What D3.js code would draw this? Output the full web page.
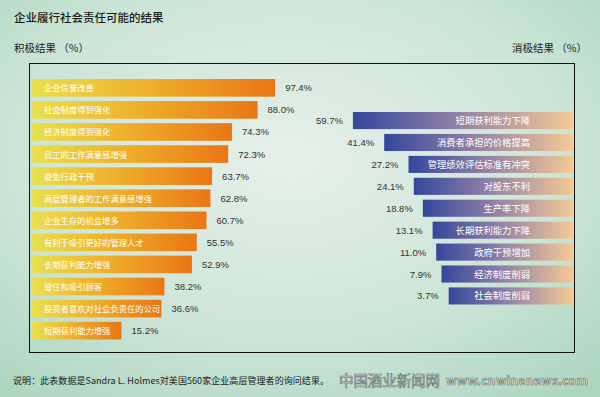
<!DOCTYPE html>
<html>
<head>
<meta charset="utf-8">
<script src="https://cdn.jsdelivr.net/npm/d3@7"></script>
<style>
  body { margin: 0; }
  text { font-family: "Noto Sans CJK SC", "Noto Sans", sans-serif; }
  .val { font-family: "Liberation Sans", Arial, sans-serif; }
</style>
</head>
<body>
<script>
// data
const posLabels = ['企业信誉改善', '社会制度得到强化', '经济制度得到强化', '员工的工作满意感增强', '避免行政干预',
  '高层管理者的工作满意感增强', '企业生存的机会增多', '有利于吸引更好的管理人才', '长期获利能力增强',
  '留住和吸引顾客', '投资者喜欢对社会负责任的公司', '短期获利能力增强']
const posValues = [97.4, 88.0, 74.3, 72.3, 63.7, 62.8, 60.7, 55.5, 52.9, 38.2, 36.6, 15.2]

const negLabels = ['短期获利能力下降', '消费者承担的价格提高', '管理绩效评估标准有冲突', '对股东不利',
  '生产率下降', '长期获利能力下降', '政府干预增加', '经济制度削弱', '社会制度削弱']
const negValues = [59.7, 41.4, 27.2, 24.1, 18.8, 13.1, 11.0, 7.9, 3.7]

const width = 600
const height = 397

const svg = d3.select('body').append('svg')
  .attr('width', width)
  .attr('height', height)

const defs = svg.append('defs')

// background
const bg = defs.append('radialGradient').attr('id', 'bg')
  .attr('cx', '48%').attr('cy', '40%').attr('r', '75%')
bg.append('stop').attr('offset', '0%').attr('stop-color', '#e6f0ea')
bg.append('stop').attr('offset', '60%').attr('stop-color', '#cce5d7')
bg.append('stop').attr('offset', '100%').attr('stop-color', '#add6c1')

const gPos = defs.append('linearGradient').attr('id', 'gpos')
gPos.append('stop').attr('offset', '0%').attr('stop-color', '#e9e150')
gPos.append('stop').attr('offset', '45%').attr('stop-color', '#eeb22c')
gPos.append('stop').attr('offset', '100%').attr('stop-color', '#ea7616')

const gNeg = defs.append('linearGradient').attr('id', 'gneg')
gNeg.append('stop').attr('offset', '0%').attr('stop-color', '#33479c')
gNeg.append('stop').attr('offset', '45%').attr('stop-color', '#8d7ea6')
gNeg.append('stop').attr('offset', '100%').attr('stop-color', '#f5c995')

svg.append('rect')
  .attr('width', width)
  .attr('height', height)
  .attr('fill', 'url(#bg)')

// titles
svg.append('text')
  .attr('x', 14).attr('y', 22)
  .attr('font-size', 11.5)
  .attr('font-weight', 500)
  .attr('fill', '#1a1a1a')
  .text('企业履行社会责任可能的结果')

svg.append('text')
  .attr('x', 14).attr('y', 52)
  .attr('font-size', 10.5)
  .attr('fill', '#222')
  .text('积极结果 （%）')

svg.append('text')
  .attr('x', 587).attr('y', 52)
  .attr('font-size', 10.5)
  .attr('text-anchor', 'end')
  .attr('fill', '#222')
  .text('消极结果 （%）')

// frame
svg.append('rect')
  .attr('x', 29.5).attr('y', 63.5)
  .attr('width', 545).attr('height', 289)
  .attr('fill', 'none')
  .attr('stroke', '#111')
  .attr('stroke-width', 1)

// positive bars
const xPos = d3.scaleLinear().domain([0, 100]).range([93, 280])
const yPos = d3.scaleBand().domain(posLabels).range([79, 339.5]).paddingInner(0.2).paddingOuter(0)

const left = svg.append('g')

left.selectAll('rect')
  .data(posLabels)
  .enter()
  .append('rect')
  .attr('x', 31)
  .attr('y', d => yPos(d))
  .attr('width', (d, i) => xPos(posValues[i]) - 31)
  .attr('height', yPos.bandwidth())
  .attr('fill', 'url(#gpos)')

left.selectAll('.lab')
  .data(posLabels)
  .enter()
  .append('text')
  .attr('class', 'lab')
  .attr('x', 44)
  .attr('y', d => yPos(d) + yPos.bandwidth() / 2 + 3.5)
  .attr('font-size', 8.3)
  .attr('fill', '#fff')
  .text(d => d)

left.selectAll('.val')
  .data(posLabels)
  .enter()
  .append('text')
  .attr('class', 'val')
  .attr('x', (d, i) => xPos(posValues[i]) + 10)
  .attr('y', d => yPos(d) + yPos.bandwidth() / 2 + 3.5)
  .attr('font-size', 9.5)
  .attr('fill', '#333')
  .text((d, i) => posValues[i].toFixed(1) + '%')

// negative bars
const wNeg = d3.scaleLinear().domain([0, 100]).range([118, 289])
const yNeg = d3.scaleBand().domain(negLabels).range([112, 304.5]).paddingInner(0.22).paddingOuter(0)
const rightEdge = 573

const right = svg.append('g')

right.selectAll('rect')
  .data(negLabels)
  .enter()
  .append('rect')
  .attr('x', (d, i) => rightEdge - wNeg(negValues[i]))
  .attr('y', d => yNeg(d))
  .attr('width', (d, i) => wNeg(negValues[i]))
  .attr('height', yNeg.bandwidth())
  .attr('fill', 'url(#gneg)')

right.selectAll('.lab')
  .data(negLabels)
  .enter()
  .append('text')
  .attr('class', 'lab')
  .attr('x', 530)
  .attr('y', d => yNeg(d) + yNeg.bandwidth() / 2 + 3.5)
  .attr('font-size', 9.3)
  .attr('text-anchor', 'end')
  .attr('fill', '#fff')
  .text(d => d)

right.selectAll('.val')
  .data(negLabels)
  .enter()
  .append('text')
  .attr('class', 'val')
  .attr('x', (d, i) => rightEdge - wNeg(negValues[i]) - 10)
  .attr('y', d => yNeg(d) + yNeg.bandwidth() / 2 + 3.5)
  .attr('font-size', 9.5)
  .attr('text-anchor', 'end')
  .attr('fill', '#333')
  .text((d, i) => negValues[i].toFixed(1) + '%')

// footer
svg.append('text')
  .attr('x', 13).attr('y', 384)
  .attr('font-size', 9)
  .attr('fill', '#222')
  .attr('textLength', 316)
  .text('说明：此表数据是Sandra L. Holmes对美国560家企业高层管理者的询问结果。')

svg.append('text')
  .attr('x', 339).attr('y', 386)
  .attr('font-size', 14.5)
  .attr('fill', '#e4ece8')
  .attr('stroke', '#6f7a76')
  .attr('stroke-width', 0.7)
  .attr('textLength', 101)
  .text('中国酒业新闻网')

svg.append('text')
  .attr('x', 446).attr('y', 385)
  .attr('font-size', 12)
  .attr('font-weight', 'bold')
  .attr('fill', '#e4ece8')
  .attr('stroke', '#6f7a76')
  .attr('stroke-width', 0.7)
  .attr('textLength', 142)
  .text('www.cnwinenews.com')
</script>
</body>
</html>
